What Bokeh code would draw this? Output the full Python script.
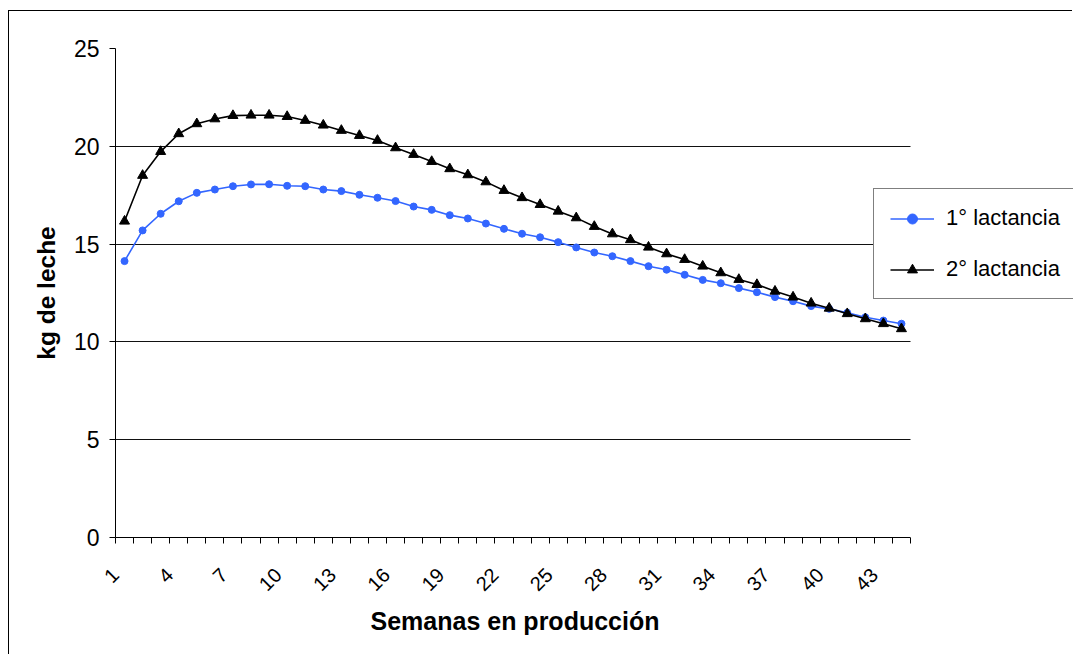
import math
from bokeh.plotting import figure
from bokeh.models import Range1d, FixedTicker, Legend, LegendItem, BoxAnnotation, Title
from bokeh.embed import file_html
from bokeh.resources import INLINE

weeks = list(range(1, 45))
label_weeks = list(range(1, 44, 3))
y_ticks = [0, 5, 10, 15, 20, 25]
grid_ticks = [5, 10, 15, 20]

lact1 = [14.13, 15.70, 16.55, 17.19, 17.62, 17.79, 17.96, 18.05, 18.06, 17.98, 17.96, 17.79, 17.71, 17.52, 17.37, 17.20,
         16.92, 16.75, 16.48, 16.31, 16.05, 15.78, 15.53, 15.35, 15.10, 14.83, 14.57, 14.38, 14.13, 13.87, 13.69,
         13.43, 13.17, 13.00, 12.75, 12.54, 12.29, 12.08, 11.83, 11.69, 11.49, 11.26, 11.09, 10.93]
lact2 = [16.17, 18.51, 19.73, 20.64, 21.15, 21.40, 21.57, 21.59, 21.59, 21.52, 21.32, 21.08, 20.81, 20.55, 20.30, 19.92,
         19.58, 19.22, 18.85, 18.54, 18.18, 17.74, 17.37, 17.02, 16.68, 16.34, 15.90, 15.52, 15.22, 14.84, 14.50,
         14.21, 13.87, 13.53, 13.19, 12.93, 12.59, 12.29, 11.98, 11.72, 11.44, 11.18, 10.93, 10.67]
series_names = ["1° lactancia", "2° lactancia"]
x_title = "Semanas en producción"
y_title = "kg de leche"

FONT = "Liberation Sans"
BLUE = "#3366FF"

# layout (pixels)
W, H = 1064, 644
LEFT, TOP, BOTTOM = 106, 37, 118
PLOT_W = 795  # width of the category area
cat_px = PLOT_W / len(weeks)
x_start = weeks[0] - 0.5
x_end_axis = weeks[-1] + 0.5
x_end_frame = x_start + (W - LEFT) / cat_px

p = figure(width=W, height=H,
           x_range=Range1d(x_start, x_end_frame), y_range=Range1d(0, 25),
           output_backend="svg", toolbar_location=None,
           min_border_left=LEFT, min_border_right=0, min_border_top=TOP, min_border_bottom=BOTTOM)
p.styles = {"margin-left": "9px", "margin-top": "11px", "box-shadow": "-1px -1px 0 0 black"}
p.outline_line_color = None
p.background_fill_color = None
p.border_fill_color = None

l1 = p.line(weeks, lact1, line_color=BLUE, line_width=1.6)
s1 = p.scatter(weeks, lact1, marker="circle", size=7, fill_color=BLUE, line_color=BLUE)
l2 = p.line(weeks, lact2, line_color="black", line_width=1.6)
s2 = p.scatter(weeks, lact2, marker="triangle", size=10, fill_color="black", line_color="black")

# x axis
shift = 0.5
boundaries = [w - 0.5 for w in weeks] + [weeks[-1] + 0.5]
xa = p.xaxis[0]
xa.bounds = (x_start, x_end_axis)
xa.ticker = FixedTicker(ticks=[w - shift for w in label_weeks], minor_ticks=boundaries)
xa.major_label_overrides = {w - shift: str(w) for w in label_weeks}
xa.major_tick_out = 0
xa.major_tick_in = 0
xa.minor_tick_out = 6
xa.minor_tick_in = 0
xa.minor_tick_line_color = "black"
xa.axis_line_color = "black"
xa.major_label_orientation = math.pi / 4
xa.major_label_standoff = 28
xa.major_label_text_font = FONT
xa.major_label_text_font_size = "20px"
xa.major_label_text_color = "black"

# x axis title, aligned under the category area
p.add_layout(Title(text=x_title, align="left", offset=255, standoff=9,
                   text_font=FONT, text_font_size="25px", text_font_style="bold",
                   text_color="black"), "below")

# y axis
ya = p.yaxis[0]
ya.ticker = FixedTicker(ticks=y_ticks)
ya.major_tick_out = 6
ya.major_tick_in = 0
ya.minor_tick_line_color = None
ya.axis_line_color = "black"
ya.major_tick_line_color = "black"
ya.major_label_standoff = 10
ya.major_label_text_font = FONT
ya.major_label_text_font_size = "23px"
ya.major_label_text_color = "black"
ya.axis_label = y_title
ya.axis_label_text_font = FONT
ya.axis_label_text_font_size = "24.5px"
ya.axis_label_text_font_style = "bold"
ya.axis_label_text_color = "black"
ya.axis_label_standoff = 11

p.xgrid.visible = False
p.ygrid.ticker = FixedTicker(ticks=grid_ticks)
p.ygrid.grid_line_color = "#111111"
p.ygrid.grid_line_width = 1

# blank area right of the plot area (where the legend sits)
p.add_layout(BoxAnnotation(left=x_end_axis, fill_color="white", fill_alpha=1, line_color=None))

legend = Legend(items=[LegendItem(label=series_names[0], renderers=[l1, s1]),
                       LegendItem(label=series_names[1], renderers=[l2, s2])],
                location=(758, 238), orientation="vertical",
                border_line_color="black", border_line_width=1,
                background_fill_color="white", background_fill_alpha=1,
                label_text_font=FONT, label_text_font_size="22px", label_text_color="black",
                glyph_width=44, glyph_height=25, label_height=25, label_width=170, label_standoff=12,
                padding=16, spacing=25, margin=0)
p.add_layout(legend)

open("out.html", "w").write(file_html(p, INLINE))
